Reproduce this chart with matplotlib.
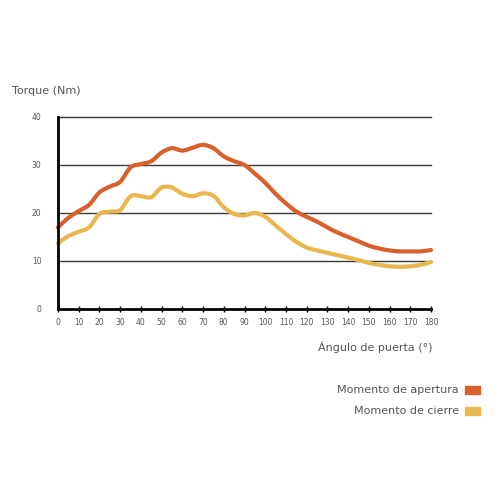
import numpy as np
import matplotlib
matplotlib.use("Agg")
import matplotlib.pyplot as plt
from matplotlib.patches import Rectangle, PathPatch
from matplotlib.path import Path

# Door angle (deg) and torque values (Nm)
angulo = list(range(0, 185, 5))
apertura = [17.0, 19.0, 20.4, 21.7, 24.3, 25.5, 26.5, 29.5, 30.2, 30.8,
            32.6, 33.5, 33.0, 33.6, 34.2, 33.5, 31.8, 30.8, 30.0, 28.2,
            26.3, 24.0, 22.0, 20.3, 19.2, 18.2, 17.0, 15.9, 15.0, 14.1,
            13.2, 12.6, 12.2, 12.0, 12.0, 12.0, 12.3]
cierre = [13.7, 15.2, 16.1, 17.0, 19.8, 20.3, 20.6, 23.5, 23.5, 23.3,
          25.3, 25.3, 24.0, 23.5, 24.1, 23.6, 21.2, 19.8, 19.5, 20.0,
          19.2, 17.4, 15.6, 14.0, 12.8, 12.2, 11.7, 11.2, 10.7, 10.2,
          9.6, 9.2, 8.9, 8.8, 8.9, 9.2, 9.8]
x_ticks = list(range(0, 190, 10))
y_ticks = [0, 10, 20, 30, 40]
series_names = ["Momento de apertura", "Momento de cierre"]

c_ap = "#d9602b"
c_ci = "#e8b84e"
txt = "#555555"


def smooth_path(xs, ys):
    # bezier curve through the points (Catmull-Rom control points)
    p = np.column_stack([xs, ys]).astype(float)
    verts = [p[0]]
    codes = [Path.MOVETO]
    for i in range(len(p) - 1):
        p0 = p[i - 1] if i > 0 else p[i]
        p3 = p[i + 2] if i + 2 < len(p) else p[i + 1]
        c1 = p[i] + (p[i + 1] - p0) / 6.0
        c2 = p[i + 1] - (p3 - p[i]) / 6.0
        verts += [c1, c2, p[i + 1]]
        codes += [Path.CURVE4] * 3
    return Path(verts, codes)


plt.rcParams['font.family'] = ['DejaVu Sans']

fig = plt.figure(figsize=(5, 5), dpi=100)
ax = fig.add_axes([0.116, 0.382, 0.746, 0.384])

for yv in y_ticks[1:]:
    ax.axhline(yv, color="#3a3a3a", lw=1.0, zorder=1, clip_on=False)

for vals, col in [(apertura, c_ap), (cierre, c_ci)]:
    ax.add_patch(PathPatch(smooth_path(angulo, vals), facecolor="none",
                           edgecolor=col, lw=3.0, capstyle="round",
                           joinstyle="round", zorder=3, clip_on=False))

ax.set_xlim(0, 180)
ax.set_ylim(0, 40)
ax.set_xticks(x_ticks)
ax.set_yticks(y_ticks)
ax.tick_params(axis="x", direction="inout", length=5, width=1, color="black",
               labelsize=5.5, labelcolor=txt, pad=4)
ax.tick_params(axis="y", length=0, labelsize=5.5, labelcolor=txt, pad=12)

for s in ["top", "right"]:
    ax.spines[s].set_visible(False)
ax.spines["left"].set_linewidth(2)
ax.spines["bottom"].set_linewidth(2)
ax.spines["left"].set_zorder(4)
ax.spines["bottom"].set_zorder(4)

fig.text(0.024, 0.818, "Torque (Nm)", fontsize=8, color=txt, va="center")
fig.text(0.866, 0.306, "Ángulo de puerta (°)", fontsize=8, color=txt,
         va="center", ha="right")

for i, (name, col) in enumerate(zip(series_names, [c_ap, c_ci])):
    yy = 0.220 - i * 0.042
    fig.text(0.918, yy, name, fontsize=8, color=txt, va="center", ha="right")
    fig.patches.append(Rectangle((0.930, yy - 0.008), 0.030, 0.016,
                                 transform=fig.transFigure, color=col,
                                 figure=fig))

fig.savefig("out.png", dpi=100)
